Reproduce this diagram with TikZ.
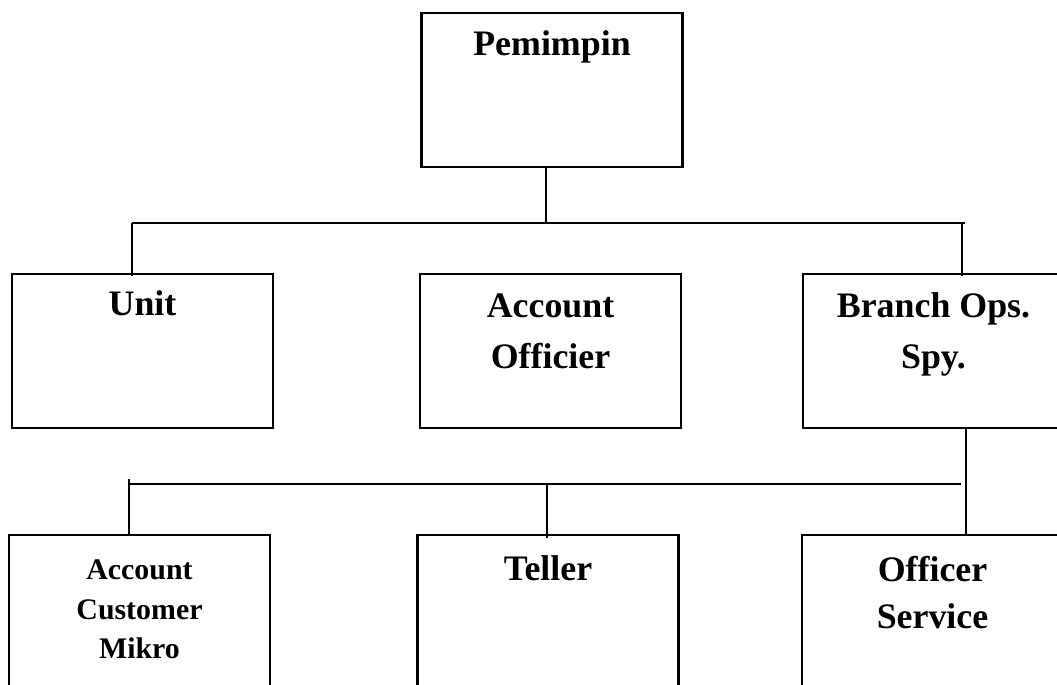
\documentclass[tikz,border=0pt]{standalone}
\usepackage{fontspec}
\setmainfont{Liberation Serif}
\begin{document}
\begin{tikzpicture}[
  box/.style={draw, line width=1.2pt, minimum width=5.22cm, minimum height=3.08cm, inner sep=0pt},
  big/.style={anchor=base, align=center, inner sep=0pt, font=\bfseries\fontsize{20.4}{29.5}\selectfont},
  small/.style={anchor=base, align=center, inner sep=0pt, font=\bfseries\fontsize{17}{22.7}\selectfont},
  link/.style={line width=1.2pt}]
  \clip (0,0) rectangle (21.14,13.68);
  \node[box] (pemimpin) at (11.04,11.88) {};
  \node[box] (unit) at (2.85,6.66) {};
  \node[box] (officier) at (11.01,6.66) {};
  \node[box] (branch) at (18.67,6.66) {};
  \node[box] (customer) at (2.79,1.44) {};
  \node[box] (teller) at (10.96,1.44) {};
  \node[box] (service) at (18.65,1.44) {};
  \node[big] (tpemimpin) at ([yshift=-0.88cm]pemimpin.north) {Pemimpin};
  \node[big] (tunit) at ([yshift=-0.86cm]unit.north) {Unit};
  \node[big] (tofficier) at ([yshift=-1.92cm]officier.north) {Account\\Officier};
  \node[big] (tbranch) at ([yshift=-1.92cm]branch.north) {Branch Ops.\\Spy.};
  \node[small] (tcustomer) at ([yshift=-2.5cm]customer.north) {Account\\Customer\\Mikro};
  \node[big] (tteller) at ([yshift=-0.94cm]teller.north) {Teller};
  \node[big, font=\bfseries\fontsize{20.4}{27.2}\selectfont] (tservice) at ([yshift=-1.9cm]service.north) {Officer\\Service};
  \coordinate (busL) at (2.64,9.22);
  \coordinate (busM) at (10.92,9.22);
  \coordinate (busR) at (19.30,9.22);
  \coordinate (busB) at (19.24,9.22);
  \coordinate (drop) at (19.32,4.00);
  \coordinate (subL) at (2.58,4.00);
  \coordinate (subM) at (10.94,4.00);
  \coordinate (subR) at (19.22,4.00);
  \draw[link] (busM |- pemimpin.south) -- (busM);
  \draw[link] (busL) -- (busR);
  \draw[link] (busL) -- ([yshift=-0.06cm]busL |- unit.north);
  \draw[link] (busB) -- ([yshift=-0.06cm]busB |- branch.north);
  \draw[link] (drop |- branch.south) -- (drop |- service.north);
  \draw[link] (subL) -- (subR);
  \draw[link] ([yshift=0.1cm]subL) -- (subL |- customer.north);
  \draw[link] (subM) -- ([yshift=-0.08cm]subM |- teller.north);
\end{tikzpicture}
\end{document}
